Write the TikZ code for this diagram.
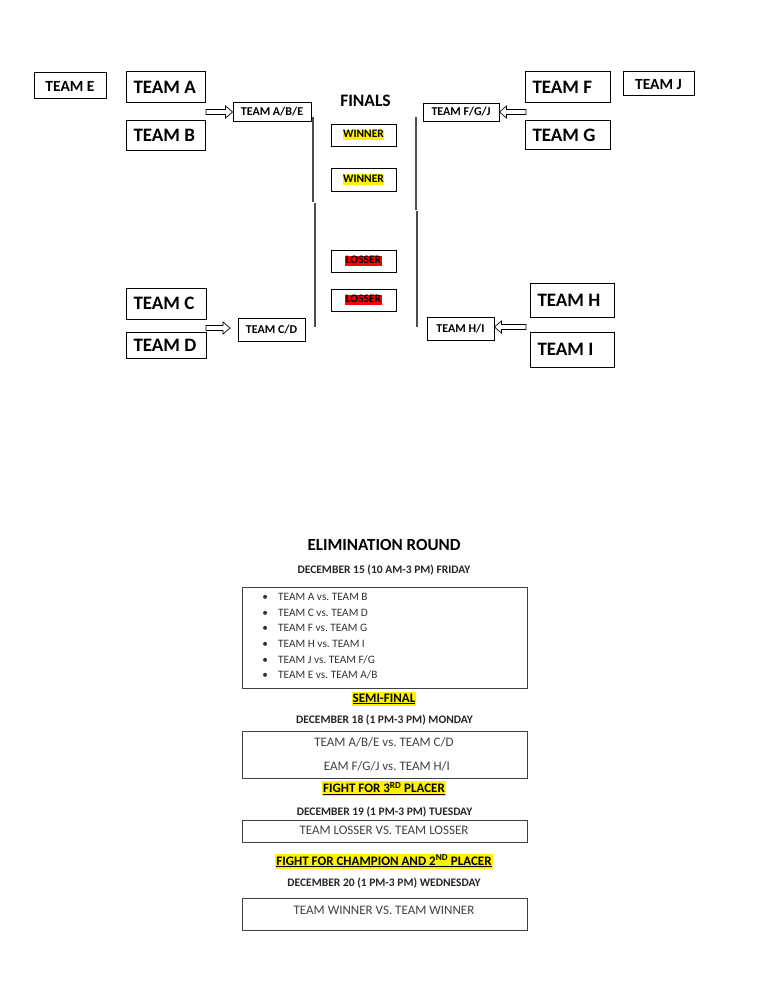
\documentclass[tikz,border=0pt]{standalone}
\usepackage{fontspec}
\setmainfont{Carlito}
\usetikzlibrary{calc}
\frenchspacing
\newcommand\fsz[1]{\fontsize{#1}{#1}\selectfont}
\newcommand\hlwin[2]{{\setlength\fboxsep{0.5pt}\colorbox{#1}{\rule[-2pt]{0pt}{9.5pt}#2}}}
\newcommand\hlhead[1]{{\setlength\fboxsep{1pt}\colorbox{yellow}{\rule[-2.6pt]{0pt}{11.4pt}\underline{#1}}}}
\begin{document}
\begin{tikzpicture}[x=1pt,y=-1pt,
  big/.style={draw, line width=1pt, font=\bfseries\fsz{19}, inner xsep=7pt, inner ysep=0pt, anchor=west},
  midbox/.style={draw, line width=0.9pt, font=\bfseries\fsz{12}, inner sep=0pt, anchor=center},
  sidebox/.style={draw, line width=1pt, font=\bfseries\fsz{15.5}, inner sep=0pt, anchor=center},
  finbox/.style={draw, line width=0.9pt, font=\bfseries\fsz{11.5}, inner sep=0pt, minimum width=65pt, minimum height=22pt},
  bracket/.style={draw=black!70, line width=1.1pt},
  sched/.style={draw=black!75, line width=1pt},
  titletext/.style={font=\bfseries\fsz{17}, anchor=base, inner sep=0pt},
  datetext/.style={font=\bfseries\fsz{11.5}, anchor=base, inner sep=0pt, text=black!85},
  headtext/.style={font=\bfseries\fsz{13}, anchor=base, inner sep=0pt},
  matchtext/.style={font=\fsz{13}, anchor=base, inner sep=0pt, text=black!75},
  itemtext/.style={font=\fsz{11.3}, anchor=base west, inner sep=0pt, text=black!80},
  blockarrow/.style={draw, line width=0.7pt, fill=white, line join=miter,
    to path={let \p1=(\tikztostart), \p2=(\tikztotarget), \n1={sign(\x2-\x1)} in
      (\x1,\y1+2.5pt) -- ({\x2-\n1*7pt},\y1+2.5pt) -- ({\x2-\n1*7pt},\y1+6pt) -- (\x2,\y1)
      -- ({\x2-\n1*7pt},\y1-6pt) -- ({\x2-\n1*7pt},\y1-2.5pt) -- (\x1,\y1-2.5pt) -- cycle}}
]
\useasboundingbox[fill=white] (0,0) rectangle (768,1006);

% ---------- bracket ----------
\node[sidebox, minimum width=72pt, minimum height=26pt] (e) at (70,86) {TEAM E};
\node[big, minimum height=31pt] (a) at (126,87.5) {\makebox[65pt][l]{TEAM A}};
\node[big, minimum height=29pt] (b) at (126,135.5) {\makebox[65pt][l]{TEAM B}};
\node[big, minimum height=31pt] (c) at (126,303.5) {\makebox[66pt][l]{TEAM C}};
\node[big, minimum height=26pt] (d) at (126,345) {\makebox[66pt][l]{TEAM D}};

\node[midbox, minimum width=78pt, minimum height=19pt] (abe) at (272,111.5) {TEAM A/B/E};
\node[midbox, minimum width=67pt, minimum height=23pt] (cd) at (271.5,329.5) {TEAM C/D};

\node[big, minimum height=31pt] (f) at (525,87.5) {\makebox[71pt][l]{TEAM F}};
\node[big, minimum height=28pt] (g) at (525,135) {\makebox[71pt][l]{TEAM G}};
\node[sidebox, minimum width=71pt, minimum height=24pt, text height=12pt] (j) at (658.5,84) {TEAM J};
\node[big, minimum height=34pt] (h) at (530,300) {\makebox[70pt][l]{TEAM H}};
\node[big, minimum height=35pt] (i) at (530,349.5) {\makebox[70pt][l]{TEAM I}};

\node[midbox, minimum width=76pt, minimum height=18pt] (fgj) at (461,112) {TEAM F/G/J};
\node[midbox, minimum width=67pt, minimum height=23pt] (hi) at (460.5,328.5) {TEAM H/I};

\node[font=\bfseries\fsz{17.5}, anchor=base, inner sep=0pt] (finals) at (365.5,107) {FINALS};
\node[finbox, minimum height=22pt] (w1) at (363.5,135) {\hlwin{yellow}{WINNER}};
\node[finbox, minimum height=23pt] (w2) at (363.5,179.5) {\hlwin{yellow}{WINNER}};
\node[finbox, minimum height=22pt] (l1) at (363.5,261) {\hlwin{red}{LOSSER}};
\node[finbox, minimum height=22pt] (l2) at (363.5,300) {\hlwin{red}{LOSSER}};

% arrows
\coordinate (abo) at (206,112);
\coordinate (cdo) at (206,328);
\coordinate (cdt) at (230,328);
\coordinate (fgo) at (526,112);
\coordinate (hio) at (526,327);
\draw[blockarrow] (abo) to (abe.west);
\draw[blockarrow] (cdo) to (cdt);
\draw[blockarrow] (fgo) to (fgj.east);
\draw[blockarrow] (hio) to (hi.east);

% bracket lines
\draw[bracket] (313,117) -- (313,202);
\draw[bracket] (315,203) -- (315,327);
\draw[bracket] (416,117) -- (416,210);
\draw[bracket] (417,211) -- (417,327);

% ---------- schedule ----------
\node[titletext] (elim) at (384,550) {ELIMINATION ROUND};
\node[datetext] (d15) at (384,573.3) {DECEMBER 15 (10 AM-3 PM) FRIDAY};
\draw[sched] (242,587) rectangle (527,688);
\node[itemtext] (m1) at (265,600.7) {\makebox[0pt]{\textbullet}\hspace{13pt}TEAM A vs. TEAM B};
\node[itemtext] (m2) at (265,616.3) {\makebox[0pt]{\textbullet}\hspace{13pt}TEAM C vs. TEAM D};
\node[itemtext] (m3) at (265,631.9) {\makebox[0pt]{\textbullet}\hspace{13pt}TEAM F vs. TEAM G};
\node[itemtext] (m4) at (265,647.5) {\makebox[0pt]{\textbullet}\hspace{13pt}TEAM H vs. TEAM I};
\node[itemtext] (m5) at (265,663.1) {\makebox[0pt]{\textbullet}\hspace{13pt}TEAM J vs. TEAM F/G};
\node[itemtext] (m6) at (265,678.7) {\makebox[0pt]{\textbullet}\hspace{13pt}TEAM E vs. TEAM A/B};

\node[headtext] (semi) at (384,702) {\hlhead{SEMI-FINAL}};
\node[datetext] (d18) at (384.5,723) {DECEMBER 18 (1 PM-3 PM) MONDAY};
\draw[sched] (242,731) rectangle (527,778);
\node[matchtext] (s1) at (384,746) {TEAM A/B/E vs. TEAM C/D};
\node[matchtext] (s2) at (387,770) {EAM F/G/J vs. TEAM H/I};

\node[headtext] (third) at (384,792.5) {\hlhead{FIGHT FOR 3\textsuperscript{RD} PLACER}};
\node[datetext] (d19) at (384.5,815) {DECEMBER 19 (1 PM-3 PM) TUESDAY};
\draw[sched] (242,820) rectangle (527,842);
\node[matchtext] (t1) at (384,834.3) {TEAM LOSSER VS. TEAM LOSSER};

\node[headtext] (champ) at (384,865) {\hlhead{FIGHT FOR CHAMPION AND 2\textsuperscript{ND} PLACER}};
\node[datetext] (d20) at (384,886.7) {DECEMBER 20 (1 PM-3 PM) WEDNESDAY};
\draw[sched] (242,898) rectangle (527,930);
\node[matchtext] (c1) at (384,914) {TEAM WINNER VS. TEAM WINNER};
\end{tikzpicture}
\end{document}
